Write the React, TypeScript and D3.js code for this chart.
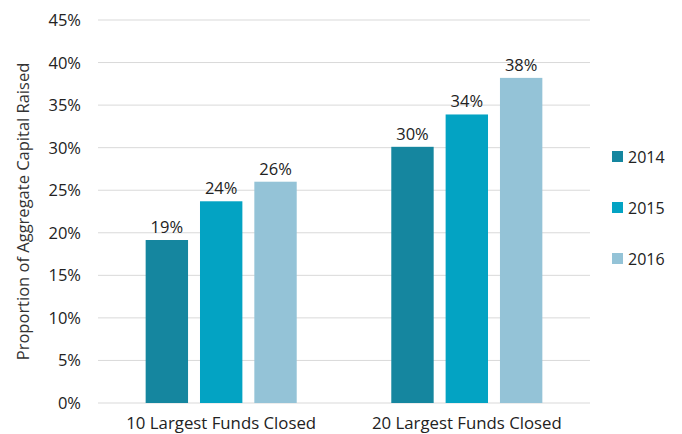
import * as d3 from "d3";

const groups = ["10 Largest Funds Closed", "20 Largest Funds Closed"];
const years = ["2014", "2015", "2016"];
const values2014 = [19.15, 30.1];
const values2015 = [23.7, 33.9];
const values2016 = [26.0, 38.2];
const labels2014 = ["19%", "30%"];
const labels2015 = ["24%", "34%"];
const labels2016 = ["26%", "38%"];
const yTicks = [0, 5, 10, 15, 20, 25, 30, 35, 40, 45];
const colors = ["#15869f", "#03a3c3", "#94c3d7"];

const W = 682;
const H = 434;
const font = "'Open Sans', sans-serif";

const App = () => {
  const series = [values2014, values2015, values2016];
  const labels = [labels2014, labels2015, labels2016];

  const x0 = d3.scaleBand().domain(groups).range([98, 590]).paddingInner(0.385).paddingOuter(0.194);
  const x1 = d3.scaleBand().domain(years).range([0, x0.bandwidth()]).paddingInner(0.22);
  const y = d3.scaleLinear().domain([0, 45]).range([403, 20]);

  const legendY = d3.scalePoint().domain(years).range([156.5, 258.5]);

  return (
    <svg width={W} height={H} style={{ position: "absolute", left: 0, top: 0 }} fontFamily={font}>
      <rect width={W} height={H} fill="#fff" />
      {yTicks.map(t => (
        <g key={t}>
          <line x1={98} x2={590} y1={y(t)} y2={y(t)} stroke="#d9d9d9" strokeWidth={1} />
          <text x={81} y={y(t) + 6} textAnchor="end" fontSize={16.5} fill="#222">{t}%</text>
        </g>
      ))}
      {groups.map((g, gi) => (
        <g key={g} transform={`translate(${x0(g)},0)`}>
          {years.map((yr, si) => (
            <g key={yr}>
              <rect x={x1(yr)} y={y(series[si][gi])} width={x1.bandwidth()} height={y(0) - y(series[si][gi])} fill={colors[si]} />
              <text x={(x1(yr) || 0) + x1.bandwidth() / 2} y={y(series[si][gi]) - 7} textAnchor="middle" fontSize={16.5} fill="#222">{labels[si][gi]}</text>
            </g>
          ))}
          <text x={x0.bandwidth() / 2} y={429} textAnchor="middle" fontSize={16.8} fill="#222">{g}</text>
        </g>
      ))}
      <text transform={`translate(29,211.5) rotate(-90)`} textAnchor="middle" fontSize={16.5} fill="#333">Proportion of Aggregate Capital Raised</text>
      {years.map((yr, i) => (
        <g key={yr} transform={`translate(612,${legendY(yr)})`}>
          <rect x={0} y={-5.5} width={11} height={11} fill={colors[i]} />
          <text x={16} y={6} fontSize={16} fill="#222">{yr}</text>
        </g>
      ))}
    </svg>
  );
};

export default App;
